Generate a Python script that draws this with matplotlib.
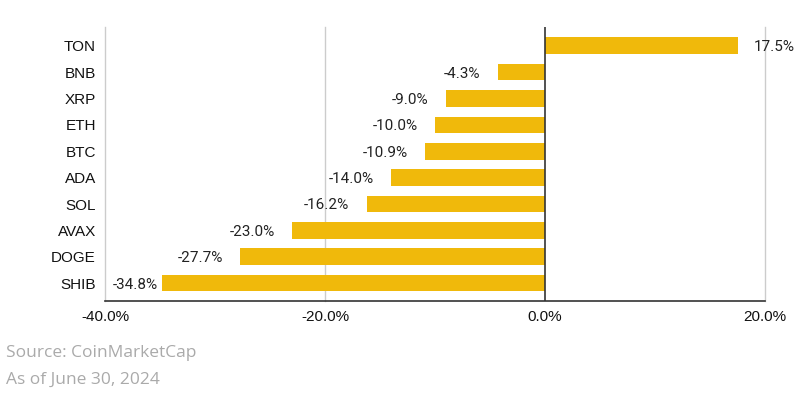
import matplotlib
matplotlib.use("Agg")
import matplotlib.pyplot as plt
from matplotlib.ticker import FuncFormatter

coins = ["TON", "BNB", "XRP", "ETH", "BTC", "ADA", "SOL", "AVAX", "DOGE", "SHIB"]
changes = [17.5, -4.3, -9.0, -10.0, -10.9, -14.0, -16.2, -23.0, -27.7, -34.8]
x_ticks = [-40, -20, 0, 20]
source_lines = ["Source: CoinMarketCap", "As of June 30, 2024"]

BAR = "#F0B90B"
GRID = "#cccccc"
DARK = "#333333"

fig = plt.figure(figsize=(8, 4), dpi=100)
ax = fig.add_axes([0.13125, 0.2485, 0.825, 0.684])

ypos = list(range(len(coins)))
ax.barh(ypos, changes, height=0.63, color=BAR, linewidth=0, zorder=2)
ax.set_ylim(len(coins) - 1 + 0.66, -0.71)
ax.set_xlim(-40, 20)

ax.set_yticks(ypos)
ax.set_yticklabels(coins, fontsize=11, family="Liberation Sans", color="#111111")
ax.set_xticks(x_ticks)
ax.xaxis.set_major_formatter(FuncFormatter(lambda v, p: f"{v:.1f}%"))
for lab in ax.get_xticklabels():
    lab.set_fontsize(11)
    lab.set_family("Liberation Sans")
    lab.set_color("#111111")
ax.tick_params(axis="both", length=0)
ax.tick_params(axis="y", pad=6.5)
ax.tick_params(axis="x", pad=7)

for s in ["top", "right"]:
    ax.spines[s].set_visible(False)
ax.spines["left"].set_color(GRID)
ax.spines["left"].set_linewidth(1)
ax.spines["bottom"].set_color(DARK)
ax.spines["bottom"].set_linewidth(1.2)
ax.spines["bottom"].set_zorder(4)

for t in [-20, 20]:
    ax.axvline(t, color=GRID, linewidth=1, zorder=1, clip_on=False)
ax.axvline(0, color=DARK, linewidth=1.2, zorder=3)

for y, v in zip(ypos, changes):
    if v >= 0:
        ax.annotate(f"{v:.1f}%", (v, y), xytext=(11.5, -1), textcoords="offset points",
                    ha="left", va="center", fontsize=11, family="Roboto", color="#222222")
    else:
        off = 12.5 if v > -30 else 3
        ax.annotate(f"{v:.1f}%", (v, y), xytext=(-off, -1), textcoords="offset points",
                    ha="right", va="center", fontsize=11, family="Roboto", color="#222222")

fig.text(6 / 800, 1 - 353 / 400, source_lines[0], fontsize=12.5, family="Open Sans",
         color="#aaaaaa", va="center", ha="left")
fig.text(6 / 800, 1 - 380 / 400, source_lines[1], fontsize=12.5, family="Open Sans",
         color="#aaaaaa", va="center", ha="left")

fig.savefig("out.png", dpi=100, facecolor="white")
